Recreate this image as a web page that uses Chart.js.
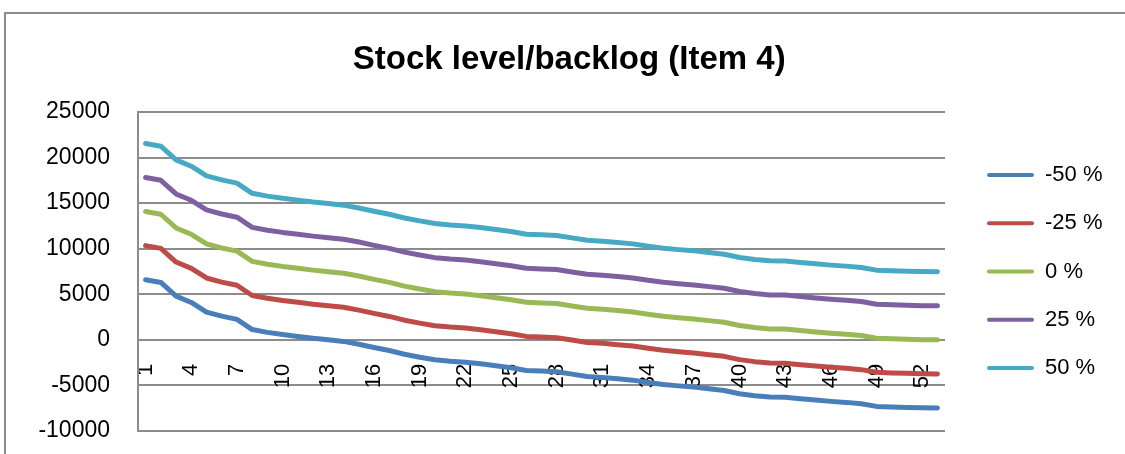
<!DOCTYPE html>
<html>
<head>
<meta charset="utf-8">
<title>Stock level/backlog (Item 4)</title>
<script src="https://cdn.jsdelivr.net/npm/chart.js@4/dist/chart.umd.min.js"></script>
<style>
  html, body { margin: 0; padding: 0; background: #fff; overflow: hidden; }
  #wrap { position: relative; width: 1125px; height: 454px; }
  #frame { position: absolute; left: 4px; top: 12px; width: 1300px; height: 600px;
           border-top: 2px solid #8c8c8c; border-left: 2px solid #8c8c8c; pointer-events: none; }
  canvas { position: absolute; left: 0; top: 0; }
</style>
</head>
<body>
<div id="wrap">
  <canvas id="chart" width="1125" height="454"></canvas>
  <div id="frame"></div>
</div>
<script>
// Periods 1..53
const categories = [1,2,3,4,5,6,7,8,9,10,11,12,13,14,15,16,17,18,19,20,21,22,23,24,25,26,27,
  28,29,30,31,32,33,34,35,36,37,38,39,40,41,42,43,44,45,46,47,48,49,50,51,52,53];

// Labels shown on the period axis
const xTickLabels = ['1','4','7','10','13','16','19','22','25','28','31','34','37','40','43','46','49','52'];

// Value axis range
const yMin = -10000;
const yMax = 25000;
const yStep = 5000;

const seriesNames = ['-50 %', '-25 %', '0 %', '25 %', '50 %'];

const minus50 = [6600, 6300, 4800, 4100, 3050, 2600, 2250, 1130, 820, 580, 380, 170, 0, -170, -480,
  -840, -1170, -1580, -1900, -2190, -2340, -2450, -2630, -2850, -3070, -3360, -3430, -3500, -3760,
  -4020, -4120, -4270, -4420, -4670, -4890, -5050, -5180, -5370, -5550, -5910, -6130, -6280, -6300,
  -6460, -6610, -6750, -6860, -7010, -7300, -7370, -7410, -7460, -7480];

const minus25 = [10340, 10040, 8540, 7840, 6790, 6340, 5990, 4870, 4560, 4320, 4120, 3910, 3740, 3570,
  3260, 2900, 2570, 2160, 1840, 1550, 1400, 1290, 1110, 890, 670, 380, 310, 240, -20, -280, -380,
  -530, -680, -930, -1150, -1310, -1440, -1630, -1810, -2170, -2390, -2540, -2560, -2720, -2870,
  -3010, -3120, -3270, -3560, -3630, -3670, -3720, -3740];

const base0 = [14080, 13780, 12280, 11580, 10530, 10080, 9730, 8610, 8300, 8060, 7860, 7650, 7480,
  7310, 7000, 6640, 6310, 5900, 5580, 5290, 5140, 5030, 4850, 4630, 4410, 4120, 4050, 3980, 3720,
  3460, 3360, 3210, 3060, 2810, 2590, 2430, 2300, 2110, 1930, 1570, 1350, 1200, 1180, 1020, 870,
  730, 620, 470, 180, 110, 70, 20, 0];

const plus25 = [17810, 17510, 16010, 15310, 14260, 13810, 13460, 12340, 12030, 11790, 11590, 11380,
  11210, 11040, 10730, 10370, 10040, 9630, 9310, 9020, 8870, 8760, 8580, 8360, 8140, 7850, 7780,
  7710, 7450, 7190, 7090, 6940, 6790, 6540, 6320, 6160, 6030, 5840, 5660, 5300, 5080, 4930, 4910,
  4750, 4600, 4460, 4350, 4200, 3910, 3840, 3800, 3750, 3730];

const plus50 = [21550, 21250, 19750, 19050, 18000, 17550, 17200, 16080, 15770, 15530, 15330, 15120,
  14950, 14780, 14470, 14110, 13780, 13370, 13050, 12760, 12610, 12500, 12320, 12100, 11880, 11590,
  11520, 11450, 11190, 10930, 10830, 10680, 10530, 10280, 10060, 9900, 9770, 9580, 9400, 9040, 8820,
  8670, 8650, 8490, 8340, 8200, 8090, 7940, 7650, 7580, 7540, 7490, 7470];

const seriesValues = [minus50, minus25, base0, plus25, plus50];
const seriesColors = ['#4a7ebb', '#be4b48', '#98b954', '#7d60a0', '#46aac5'];

const gridColor = '#8c8c8c';
Chart.defaults.font.family = "'Liberation Sans', Arial, sans-serif";
Chart.defaults.color = '#000';

const datasets = seriesNames.map((name, i) => ({
  label: name,
  data: seriesValues[i],
  borderColor: seriesColors[i],
  backgroundColor: seriesColors[i],
  borderWidth: 5,
  borderCapStyle: 'round',
  borderJoinStyle: 'round',
  pointRadius: 0,
  pointHoverRadius: 0,
  tension: 0,
  fill: false
}));

new Chart(document.getElementById('chart'), {
  type: 'line',
  data: { labels: categories, datasets },
  options: {
    responsive: false,
    animation: false,
    devicePixelRatio: 1,
    events: [],
    layout: { padding: { top: 14, right: 12.5, bottom: 23, left: 26 } },
    plugins: {
      tooltip: { enabled: false },
      title: {
        display: true,
        text: 'Stock level/backlog (Item 4)',
        color: '#000',
        font: { size: 33, weight: 'bold' },
        padding: { top: 26, bottom: 32.4 }
      },
      legend: {
        display: true,
        position: 'right',
        align: 'center',
        fullSize: false,
        labels: {
          color: '#000',
          font: { size: 22 },
          boxWidth: 47,
          boxHeight: 4,
          padding: 26.3,
          useBorderRadius: true,
          borderRadius: 2,
          generateLabels(chart) {
            return chart.data.datasets.map((ds, i) => ({
              text: ds.label,
              fillStyle: ds.borderColor,
              strokeStyle: ds.borderColor,
              lineWidth: 0,
              hidden: false,
              datasetIndex: i,
              borderRadius: 2
            }));
          }
        }
      }
    },
    scales: {
      x: {
        axis: 'x',
        type: 'category',
        position: { y: 0 },
        offset: true,
        grid: { display: false, drawTicks: false },
        border: { display: false },
        ticks: {
          autoSkip: false,
          minRotation: 90,
          maxRotation: 90,
          padding: 24,
          font: { size: 22 },
          color: '#000',
          callback(value) {
            const label = String(this.getLabelForValue(value));
            return xTickLabels.includes(label) ? label : '';
          }
        }
      },
      y: {
        type: 'linear',
        position: 'left',
        min: yMin,
        max: yMax,
        grid: { color: gridColor, lineWidth: 2, drawTicks: false },
        border: { display: true, color: gridColor, width: 2 },
        ticks: {
          stepSize: yStep,
          padding: 28,
          font: { size: 23 },
          color: '#000',
          callback: v => String(v)
        },
        afterFit(scale) {
          scale.width = 112;
          scale.paddingTop = 0;
          scale.paddingBottom = 0;
        }
      },
      gap: {
        type: 'linear',
        position: 'right',
        display: true,
        grid: { display: false, drawTicks: false },
        border: { display: false },
        ticks: { display: false },
        afterFit(scale) { scale.width = 15.7; }
      }
    }
  }
});
</script>
</body>
</html>
